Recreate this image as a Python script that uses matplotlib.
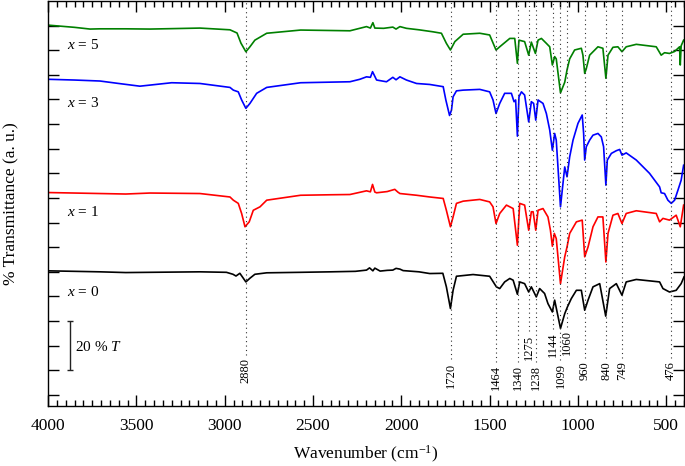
import numpy as np
import matplotlib
matplotlib.use("Agg")
from matplotlib import pyplot as plt
from matplotlib.ticker import MultipleLocator, NullFormatter

plt.rcParams["font.family"] = ["Liberation Serif", "DejaVu Serif"]
plt.rcParams["mathtext.fontset"] = "custom"
plt.rcParams["mathtext.rm"] = "Liberation Serif"
plt.rcParams["mathtext.it"] = "Liberation Serif:italic"

# (wavenumber, offset transmittance)
spec_x0 = [(4000, 40.4), (3850, 40.2), (3706, 40.0), (3560, 39.7), (3423, 39.8), (3280, 39.9),
           (3140, 40.0), (2990, 39.8), (2953, 39.0), (2936, 38.3), (2914, 39.4), (2880, 35.9),
           (2857, 37.4), (2829, 39.0), (2762, 39.6), (2570, 39.8), (2400, 40.0), (2260, 40.2),
           (2197, 40.7), (2180, 41.6), (2161, 40.4), (2150, 41.5), (2120, 40.3), (2080, 40.6),
           (2048, 40.7), (2030, 41.4), (2008, 41.1), (1990, 40.5), (1900, 40.0), (1839, 39.3),
           (1765, 39.4), (1745, 33.9), (1722, 25.1), (1707, 32.5), (1688, 38.2), (1594, 38.9),
           (1500, 38.2), (1462, 33.9), (1443, 33.2), (1415, 35.9), (1386, 37.3), (1367, 36.6),
           (1343, 30.9), (1330, 35.9), (1302, 35.2), (1279, 31.8), (1264, 33.9), (1236, 29.8),
           (1217, 33.2), (1189, 31.2), (1170, 27.1), (1145, 23.7), (1132, 28.5), (1099, 17.0),
           (1075, 23.0), (1060, 25.7), (1038, 29.1), (1009, 32.5), (981, 32.5), (962, 24.4),
           (943, 28.5), (915, 33.9), (877, 35.2), (843, 22.0), (821, 33.2), (783, 35.2),
           (751, 30.5), (727, 35.9), (670, 36.9), (538, 35.9), (519, 33.2), (482, 31.8),
           (444, 32.5), (416, 35.2), (400, 37.9)]

spec_x1 = [(4000, 72.2), (3850, 72.0), (3706, 71.8), (3560, 71.6), (3423, 72.0), (3280, 71.9),
           (3140, 71.8), (2970, 70.4), (2951, 69.1), (2923, 67.8), (2904, 63.7), (2885, 58.3),
           (2861, 60.3), (2838, 65.0), (2800, 66.4), (2762, 69.1), (2570, 71.1), (2400, 71.3),
           (2291, 71.4), (2197, 72.9), (2175, 72.5), (2163, 75.5), (2150, 72.4), (2140, 72.1),
           (2080, 72.6), (2037, 73.5), (2020, 72.4), (2008, 71.8), (1914, 71.1), (1839, 70.4),
           (1763, 69.8), (1745, 65.0), (1722, 58.3), (1707, 62.3), (1688, 67.8), (1650, 68.7),
           (1556, 69.4), (1500, 68.4), (1481, 66.4), (1464, 59.6), (1443, 63.7), (1405, 67.1),
           (1367, 65.7), (1343, 50.8), (1330, 67.8), (1302, 67.1), (1279, 56.9), (1264, 64.4),
           (1254, 64.4), (1239, 56.9), (1226, 65.0), (1198, 65.7), (1170, 62.3), (1156, 56.9),
           (1145, 50.4), (1134, 55.6), (1123, 53.5), (1099, 35.2), (1075, 46.1), (1062, 50.1),
           (1047, 55.6), (1009, 60.3), (976, 61.0), (962, 46.1), (943, 50.1), (915, 58.3),
           (887, 62.3), (859, 62.3), (842, 44.0), (830, 55.6), (802, 63.0), (774, 63.7),
           (751, 59.6), (727, 63.7), (670, 64.8), (557, 63.7), (538, 60.3), (519, 61.7),
           (482, 61.0), (444, 63.0), (421, 58.3), (402, 67.1)]

spec_x3 = [(4000, 118.2), (3850, 117.9), (3706, 117.5), (3600, 116.5), (3480, 115.4), (3300, 116.8),
           (3140, 116.5), (2970, 114.9), (2951, 113.8), (2923, 113.1), (2904, 109.8), (2880, 106.4),
           (2857, 108.4), (2819, 112.5), (2762, 114.9), (2570, 116.8), (2291, 117.2), (2235, 118.2),
           (2197, 119.2), (2175, 119.0), (2163, 121.3), (2140, 117.9), (2084, 117.2), (2048, 119.0),
           (2030, 118.0), (2008, 119.2), (1971, 117.9), (1914, 116.5), (1839, 116.1), (1763, 115.2),
           (1748, 109.8), (1727, 103.5), (1716, 105.7), (1707, 111.1), (1688, 113.5), (1650, 113.8),
           (1556, 114.1), (1500, 113.1), (1481, 109.8), (1464, 104.3), (1443, 108.4), (1415, 112.5),
           (1377, 112.5), (1362, 109.1), (1353, 109.8), (1343, 95.1), (1334, 111.1), (1320, 113.1),
           (1302, 111.8), (1279, 100.9), (1264, 109.1), (1251, 108.4), (1239, 101.6), (1226, 109.8),
           (1198, 108.4), (1179, 104.3), (1160, 97.6), (1145, 89.4), (1132, 96.2), (1123, 93.5),
           (1099, 66.4), (1075, 82.6), (1062, 78.6), (1047, 86.7), (1028, 93.5), (1000, 100.3),
           (976, 103.7), (968, 96.2), (962, 85.4), (953, 90.8), (934, 93.5), (915, 95.5),
           (887, 96.2), (868, 94.8), (855, 90.8), (842, 75.2), (834, 85.4), (811, 88.1),
           (783, 89.2), (764, 89.7), (751, 87.4), (727, 88.3), (670, 85.4), (595, 80.0),
           (538, 74.5), (529, 72.1), (510, 71.8), (491, 69.1), (472, 67.8), (453, 69.1),
           (434, 73.2), (416, 77.2), (402, 83.3)]

spec_x5 = [(4000, 140.2), (3850, 139.3), (3762, 138.6), (3706, 138.7), (3560, 138.7), (3423, 138.6),
           (3280, 138.8), (3140, 139.0), (2970, 138.3), (2930, 137.0), (2908, 132.9), (2880, 129.4),
           (2857, 131.4), (2829, 134.1), (2762, 136.9), (2570, 138.2), (2291, 137.9), (2197, 139.6),
           (2175, 139.0), (2161, 141.2), (2150, 139.0), (2100, 138.9), (2048, 139.4), (2030, 138.6),
           (2008, 139.6), (1971, 138.9), (1900, 138.3), (1822, 137.5), (1773, 136.9), (1745, 132.8),
           (1722, 130.1), (1697, 133.5), (1650, 136.5), (1556, 136.9), (1500, 136.2), (1464, 130.1),
           (1443, 131.4), (1386, 134.8), (1358, 134.8), (1343, 124.7), (1334, 134.1), (1302, 133.5),
           (1279, 128.0), (1264, 133.3), (1241, 128.7), (1226, 134.1), (1207, 134.8), (1179, 132.8),
           (1160, 131.4), (1145, 124.0), (1132, 127.4), (1123, 126.5), (1099, 112.7), (1075, 117.0),
           (1062, 122.0), (1047, 126.5), (1019, 130.1), (981, 130.8), (972, 128.0), (962, 120.6),
           (953, 122.5), (934, 128.0), (887, 131.4), (859, 130.8), (842, 118.6), (830, 128.0),
           (802, 131.2), (774, 131.4), (751, 129.4), (727, 131.4), (670, 132.4), (557, 131.4),
           (529, 128.0), (510, 129.0), (482, 128.7), (453, 129.5), (425, 131.4), (421, 124.0),
           (416, 131.8), (402, 134.1)]

curve_names = ["$x$ = 0", "$x$ = 1", "$x$ = 3", "$x$ = 5"]
curve_label_y = [31.8, 64.2, 108.4, 132.1]

peaks = [2880, 1720, 1464, 1340, 1275, 1238, 1144, 1099, 1060, 960, 840, 749, 476]
peak_label_y = [-5.3, -7.3, -8.1, -8.1, 4.1, -8.1, 5.3, -7.3, 6.1, -4.1, -4.1, -4.1, -4.1]


fig = plt.figure(figsize=(6.85, 4.66), dpi=100)
ax = fig.add_axes([0.0701, 0.1298, 0.9284, 0.867])

specs = [spec_x0, spec_x1, spec_x3, spec_x5]
colors = ["black", "#ff0000", "#0000ff", "#008000"]
for spec, c in zip(specs, colors):
    d = np.array(spec)
    ax.plot(d[:, 0], d[:, 1], color=c, lw=1.2)

ax.set_xlim(4000, 400)
ax.set_ylim(-14.3, 149.8)

for name, y in zip(curve_names, curve_label_y):
    ax.text(3895, y, name, fontsize=11, va="center", ha="left")

# 20 % T scale bar
ax.errorbar(3875, 10, yerr=10, color="#222222", lw=1.0, capsize=2.5, capthick=1.0)
ax.text(3845, 9.5, "20 % $T$", fontsize=11, va="center", ha="left")

texts = []
for p, y in zip(peaks, peak_label_y):
    t = ax.text(p, y, str(p), rotation=90, fontsize=9, ha="center", va="bottom")
    texts.append(t)

fig.canvas.draw()
inv = ax.transData.inverted()
for p, t in zip(peaks, texts):
    bb = t.get_window_extent()
    top = inv.transform((bb.x0, bb.y1))[1]
    ax.plot([p, p], [top + 1.5, 149.8], ls=(0, (1, 3)), color="#333333", lw=0.8)

ax.xaxis.set_major_locator(MultipleLocator(500))
ax.xaxis.set_minor_locator(MultipleLocator(50))
ax.yaxis.set_major_locator(MultipleLocator(10))
ax.yaxis.set_major_formatter(NullFormatter())
ax.tick_params(which="both", direction="in", top=True, right=True, width=1.0)
ax.tick_params(which="major", length=8)
ax.tick_params(axis="x", which="major", pad=9, labelsize=12.5)
ax.tick_params(which="minor", length=4)
for s in ax.spines.values():
    s.set_linewidth(1.0)

ax.set_xlabel("Wavenumber (cm$^{-1}$)", fontsize=12.5, labelpad=7)
ax.set_ylabel("% Transmittance (a. u.)", fontsize=12.5)
ax.yaxis.set_label_coords(-0.045, 0.5)

fig.savefig("out.png", dpi=100)
